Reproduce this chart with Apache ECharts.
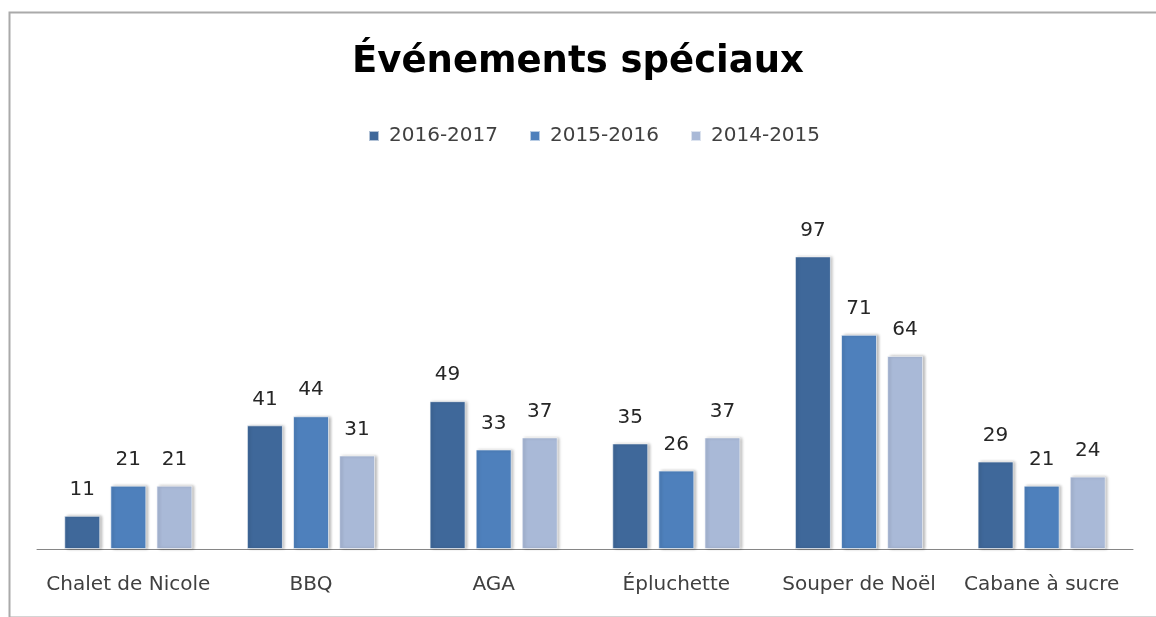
<!DOCTYPE html>
<html>
<head>
<meta charset="utf-8">
<script src="https://cdn.jsdelivr.net/npm/echarts@6/dist/echarts.min.js"></script>
<style>
  html, body { margin: 0; padding: 0; background: #fff; }
  #main { width: 1156px; height: 617px; }
</style>
</head>
<body>
<div id="main"></div>
<script>
// données du graphique
const categories = ['Chalet de Nicole', 'BBQ', 'AGA', 'Épluchette', 'Souper de Noël', 'Cabane à sucre']
const seriesNames = ['2016-2017', '2015-2016', '2014-2015']
const values2016 = [11, 41, 49, 35, 97, 29]
const values2015 = [21, 44, 33, 26, 71, 21]
const values2014 = [21, 31, 37, 37, 64, 24]
const colors = ['#3f689a', '#4e80bc', '#a9b9d7']

const font = '"DejaVu Sans", sans-serif'

const makeSeries = (name, data, color) => ({
  name,
  type: 'bar',
  data,
  barWidth: 36,
  barGap: '28%',
  itemStyle: {
    color,
    borderColor: 'rgba(255,255,255,0.6)',
    borderWidth: 1,
    shadowColor: 'rgba(0,0,0,0.3)',
    shadowBlur: 3,
    shadowOffsetX: 2,
    shadowOffsetY: 0
  },
  label: {
    show: true,
    position: 'top',
    distance: 16,
    color: '#262626',
    fontSize: 20,
    fontFamily: font
  }
})

let myChart = echarts.init(document.getElementById('main'))
myChart.setOption({
  animation: false,
  color: colors,
  title: {
    text: 'Événements spéciaux',
    left: 'center',
    top: 39,
    textStyle: { fontSize: 37, fontWeight: 'bold', color: '#000', fontFamily: font }
  },
  legend: {
    top: 121,
    left: 363,
    itemWidth: 10,
    itemHeight: 10,
    itemGap: 31,
    icon: 'rect',
    textStyle: { fontSize: 20, color: '#404040', fontFamily: font, padding: [0, 0, 0, 5] },
    data: seriesNames
  },
  grid: { left: 37, right: 23, top: 187, bottom: 68 },
  xAxis: {
    type: 'category',
    data: categories,
    axisLine: { lineStyle: { color: '#868686', width: 1 } },
    axisTick: { show: false },
    axisLabel: { margin: 26, fontSize: 20, color: '#404040', fontFamily: font, interval: 0 }
  },
  yAxis: {
    type: 'value',
    min: 0,
    max: 120,
    show: false
  },
  graphic: [{
    type: 'rect',
    left: 7,
    top: 10,
    shape: { width: 1160, height: 605 },
    style: { fill: 'none', stroke: '#aaaaaa', lineWidth: 2 },
    silent: true
  }],
  series: [
    makeSeries(seriesNames[0], values2016, colors[0]),
    makeSeries(seriesNames[1], values2015, colors[1]),
    makeSeries(seriesNames[2], values2014, colors[2])
  ]
})
</script>
</body>
</html>
